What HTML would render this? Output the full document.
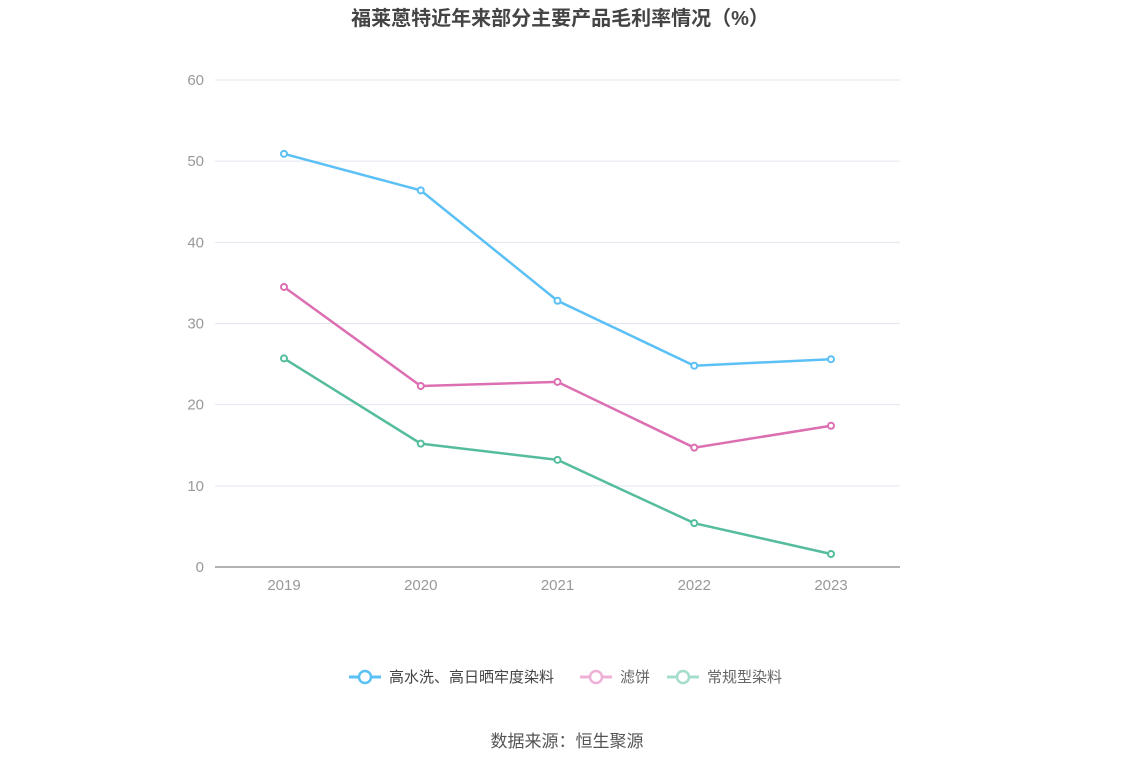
<!DOCTYPE html>
<html><head><meta charset="utf-8"><style>
body{margin:0;background:#fff;width:1134px;height:766px;overflow:hidden;font-family:"Liberation Sans","Noto Sans CJK SC",sans-serif}
</style></head><body>
<svg id="chart" width="1134" height="766">
<text x="560" y="25" text-anchor="middle" font-size="20" font-weight="bold" fill="#444" font-family="Liberation Sans, Noto Sans CJK SC, sans-serif">福莱蒽特近年来部分主要产品毛利率情况（%）</text>
<g id="grid"></g><g id="series"></g>
<g font-size="15" font-family="Liberation Sans, Noto Sans CJK SC, sans-serif">
<g><line x1="349" y1="677" x2="381" y2="677" stroke="#5bc0f5" stroke-width="3"/><circle cx="365" cy="677" r="6" fill="#fff" stroke="#5bc0f5" stroke-width="2.5"/><text x="389" y="682" fill="#444">高水洗、高日晒牢度染料</text></g>
<g><line x1="580" y1="677" x2="612" y2="677" stroke="#eeb0d6" stroke-width="3"/><circle cx="596" cy="677" r="6" fill="#fff" stroke="#eeb0d6" stroke-width="2.5"/><text x="620" y="682" fill="#666">滤饼</text></g>
<g><line x1="667" y1="677" x2="699" y2="677" stroke="#a5ddcc" stroke-width="3"/><circle cx="683" cy="677" r="6" fill="#fff" stroke="#a5ddcc" stroke-width="2.5"/><text x="707" y="682" fill="#666">常规型染料</text></g>
</g>
<text x="567" y="747" text-anchor="middle" font-size="17" fill="#555" font-family="Liberation Sans, Noto Sans CJK SC, sans-serif">数据来源：恒生聚源</text>
</svg>
<script>
const categories=["2019","2020","2021","2022","2023"];
const yTicks=[0,10,20,30,40,50,60];
const highWash=[50.9,46.4,32.8,24.8,25.6];
const filterCake=[34.5,22.3,22.8,14.7,17.4];
const regularDye=[25.7,15.2,13.2,5.4,1.6];
const ns="http://www.w3.org/2000/svg";
const x=i=>284+i*136.75, y=v=>567-v*8.117;
const grid=document.getElementById('grid'), ser=document.getElementById('series');
function mk(tag,attrs,parent){const e=document.createElementNS(ns,tag);for(const k in attrs)e.setAttribute(k,attrs[k]);parent.appendChild(e);return e;}
yTicks.forEach(t=>{
 const l=mk('line',{x1:215,x2:900,y1:y(t),y2:y(t),stroke:t===0?'#999':'#e3e6ef','stroke-width':t===0?1.5:1},grid);
 
 
 const tx=mk('text',{x:204,y:y(t)+5,'text-anchor':'end','font-size':15,fill:'#999'},grid);tx.textContent=t;
 
 
});
categories.forEach((c,i)=>{
 const tx=mk('text',{x:x(i),y:590,'text-anchor':'middle','font-size':15,fill:'#999'},grid);tx.textContent=c;
 
 
});
[[highWash,'#5bc0f5','high-wash'],[filterCake,'#dc6fb2','filter-cake'],[regularDye,'#55bd9e','regular-dye']].forEach(([d,col,n])=>{
 const p=mk('polyline',{points:d.map((v,i)=>x(i)+','+y(v)).join(' '),fill:'none',stroke:col,'stroke-width':2.5},ser);
 
 
 d.forEach((v,i)=>{const c=mk('circle',{cx:x(i),cy:y(v),r:3,fill:'#fff',stroke:col,'stroke-width':2},ser);
 
 });
});
</script>
</body></html>
